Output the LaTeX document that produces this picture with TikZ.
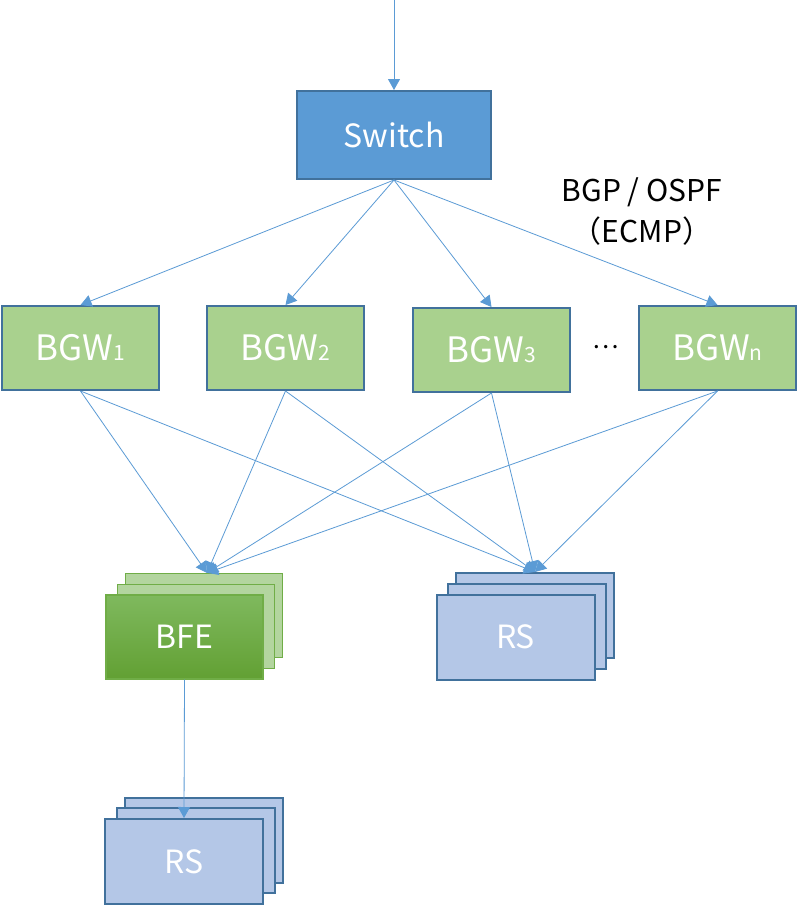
\documentclass[tikz,border=0pt]{standalone}
\usepackage{fontspec}
\setmainfont{Noto Sans CJK SC}
\usetikzlibrary{arrows.meta}

\definecolor{linkblue}{HTML}{5B9BD5}
\definecolor{edgeblue}{HTML}{41719C}
\definecolor{switchblue}{HTML}{5B9BD5}
\definecolor{bgwgreen}{HTML}{A9D18E}
\definecolor{rsblue}{HTML}{B4C7E7}
\definecolor{bfeedge}{HTML}{70AD47}
\definecolor{bfelight}{HTML}{B3D59F}
\definecolor{bfetop}{HTML}{7FB95E}
\definecolor{bfebottom}{HTML}{62A033}

\newcommand\idx[1]{{\fontsize{21}{21}\selectfont #1}}

\begin{document}
\begin{tikzpicture}[x=1pt,y=-1pt,
    link/.style={draw=linkblue, line width=0.8pt, -{Triangle[length=11pt,width=12pt]}},
    box/.style={draw=edgeblue, line width=2pt, minimum width=157pt, minimum height=84pt,
        inner sep=0pt, text=white, font=\fontsize{32}{36}\selectfont},
    switchbox/.style={box, fill=switchblue, minimum width=194pt, minimum height=88pt},
    bgwbox/.style={box, fill=bgwgreen, font=\fontsize{35}{38}\selectfont},
    rsbox/.style={box, fill=rsblue, minimum width=158pt, minimum height=85pt},
    bfeback/.style={box, draw=bfeedge, line width=1.2pt, fill=bfelight},
    bfefront/.style={box, draw=bfeedge, line width=1.2pt, top color=bfetop, bottom color=bfebottom}]

    \fill[white] (0,0) rectangle (799,907);
    \useasboundingbox (0,0) rectangle (799,907);

    % switch and gateways
    \node[switchbox] (sw) at (394,135) {Switch};
    \node[bgwbox] (bgw1) at (80.5,348) {BGW\idx{1}};
    \node[bgwbox] (bgw2) at (285.5,348) {BGW\idx{2}};
    \node[bgwbox] (bgw3) at (491.5,350) {BGW\idx{3}};
    \node[bgwbox] (bgwn) at (717.5,348) {BGW\idx{n}};
    \node[font=\fontsize{25}{25}\selectfont] (dots) at (606,347) {…};
    \node[font=\fontsize{30}{41}\selectfont, align=center] (proto) at (642,212)
        {BGP / OSPF\\（ECMP）};

    % BFE stack
    \node[bfeback] (bfeC) at (204,615.5) {};
    \node[bfeback] (bfeB) at (196,626.5) {};
    \node[bfefront] (bfeA) at (184.5,637) {BFE};

    % RS stack
    \node[rsbox] (rsC) at (535,615.5) {};
    \node[rsbox] (rsB) at (527,626.5) {};
    \node[rsbox] (rsA) at (515.5,637) {RS};

    % RS stack behind BFE
    \node[rsbox] (rs2C) at (203.5,840) {};
    \node[rsbox] (rs2B) at (196,850.5) {};
    \node[rsbox] (rs2A) at (184,861.5) {RS};

    % links
    \coordinate (in) at (394,0);
    \draw[link] (in) -- (sw.north);
    \foreach \g in {bgw1,bgw2,bgw3,bgwn} {
        \draw[link] (sw.south) -- (\g.north);
        \draw[link] (\g.south) -- ([xshift=3pt]bfeC.north);
        \draw[link] (\g.south) -- (rsC.north);
    }
    \draw[link] (bfeA.south) -- (rs2A.north);
\end{tikzpicture}
\end{document}
